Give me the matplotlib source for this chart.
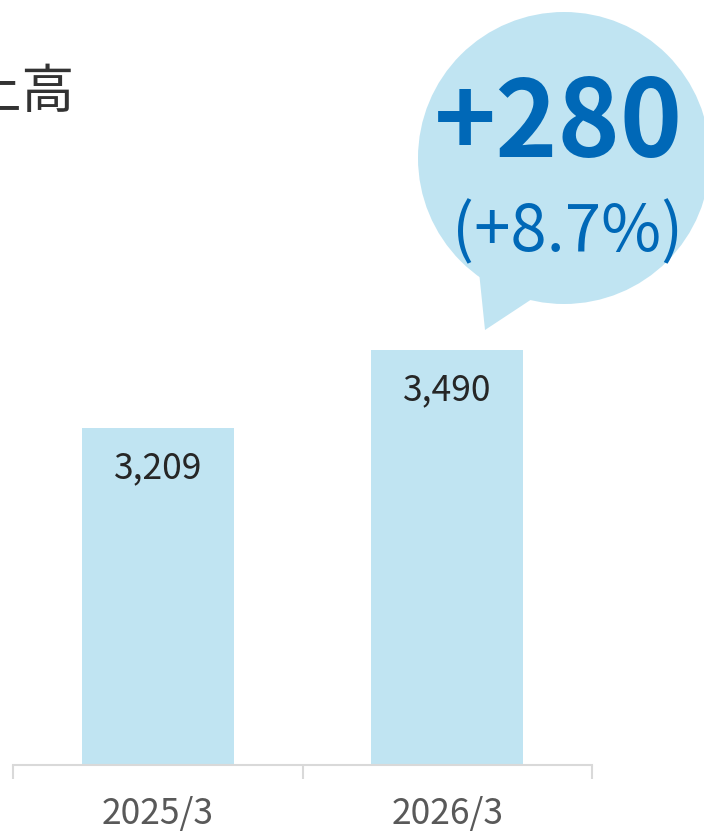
import matplotlib
matplotlib.use("Agg")
import matplotlib.pyplot as plt
from matplotlib.patches import Circle, Polygon

plt.rcParams['font.family'] = ['Noto Sans CJK JP', 'DejaVu Sans']

# data
categories = ['2025/3', '2026/3']
sales = [3209, 3490]
value_labels = ['3,209', '3,490']
title = '売上高'
diff_text = '+280'
diff_pct = '(+8.7%)'

bar_color = '#c0e4f2'
blue = '#0068b7'

W, H = 704, 835
fig = plt.figure(figsize=(W / 100, H / 100), dpi=100)

# main axes (pixel box: x 13-592, y 100-765)
ax = fig.add_axes([13 / W, (H - 765) / H, 579 / W, 665 / H])
x = range(len(categories))
ax.bar(x, sales, width=0.525, color=bar_color)
ax.set_xlim(-0.5, 1.5)
ax.set_ylim(2000, 4386)

for xi, v, lab in zip(x, sales, value_labels):
    ax.annotate(lab, (xi, v), xytext=(0, -29), textcoords='offset points',
                ha='center', va='center', fontsize=25.5, color='#262626')

for s in ['top', 'left', 'right']:
    ax.spines[s].set_visible(False)
ax.spines['bottom'].set_color('#d9d9d9')
ax.spines['bottom'].set_linewidth(1.5)
ax.set_yticks([])
ax.set_xticks(list(x))
ax.set_xticklabels(categories, fontsize=25.5, color='#595959')
ax.tick_params(axis='x', which='major', length=0, pad=22)
ax.set_xticks([-0.5, 0.5, 1.5], minor=True)
ax.tick_params(axis='x', which='minor', length=10, width=1.5, color='#d9d9d9')

# overlay in pixel coordinates for title and balloon
ov = fig.add_axes([0, 0, 1, 1])
ov.set_xlim(0, W)
ov.set_ylim(H, 0)
ov.axis('off')

ov.text(75, 92, title, ha='right', va='center', fontsize=38, color='#333333')

ov.add_patch(Circle((564, 158), 146, color=bar_color, lw=0))
ov.add_patch(Polygon([(478, 262), (485, 330), (535, 297)], closed=True,
                     color=bar_color, lw=0))
ov.text(558, 126, diff_text, ha='center', va='center', fontsize=76,
        fontweight='bold', color=blue)
ov.text(568, 233, diff_pct, ha='center', va='center', fontsize=47,
        color=blue)

fig.savefig('out.png', dpi=100)
